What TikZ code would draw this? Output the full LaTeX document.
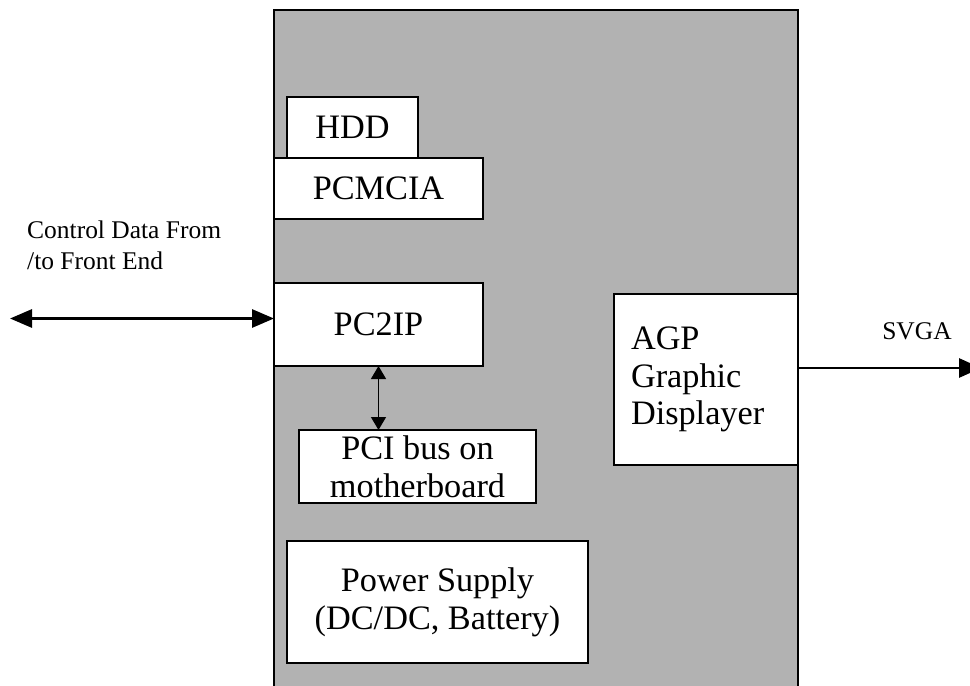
\documentclass[tikz,border=0pt]{standalone}
\usepackage{fontspec}
\setmainfont{Liberation Serif}
\usepackage{xcolor}
\definecolor{boardgray}{RGB}{178,178,178}
\usepackage{tikz}
\usetikzlibrary{arrows.meta, positioning, calc}

\begin{document}
\begin{tikzpicture}[
  board/.style={rectangle, draw=black, line width=1.1pt, fill=boardgray,
                minimum width=10.48cm, minimum height=13.7cm, outer sep=0pt},
  blk/.style={rectangle, draw=black, line width=0.8pt, fill=white, inner sep=0pt,
              outer sep=0pt, align=center, font=\fontsize{19.5}{21.5}\selectfont},
  sig/.style={font=\fontsize{#1}{17.6}\selectfont, align=left},
  bus/.style={line width=1.7pt, {Triangle[length=0.44cm,width=0.36cm]}-{Triangle[length=0.44cm,width=0.36cm]}},
  link/.style={line width=0.8pt, {Triangle[length=0.26cm,width=0.3cm]}-{Triangle[length=0.26cm,width=0.3cm]}}
]
\clip (0,0) rectangle (19.4,13.7);

% Motherboard (runs off the bottom edge)
\node[board] (mb) at (10.72,6.65) {};

% Left column
\node[blk, minimum width=2.62cm, minimum height=1.22cm] (hdd) at (7.05,11.15) {HDD};
\node[blk, minimum width=4.18cm, minimum height=1.22cm] (pcmcia) at (7.57,9.93) {PCMCIA};
\node[blk, minimum width=4.18cm, minimum height=1.66cm] (pc2ip) at (7.57,7.21) {PC2IP};
\node[blk, minimum width=4.74cm, minimum height=1.46cm] (pci) at (8.35,4.37) {PCI bus on\\motherboard};
\node[blk, minimum width=6.02cm, minimum height=2.44cm] (psu) at (8.75,1.66) {Power Supply\\(DC/DC, Battery)};

% Right: graphics
\node[blk, minimum width=3.68cm, minimum height=3.42cm, text width=3.0cm,
      align=left] (agp) at (14.12,6.11) {AGP\\Graphic\\Displayer};

% Front end link
\coordinate (fe) at (0.2,7.33);
\draw[bus] (fe) -- (fe -| pc2ip.west);
\node[sig=14.5, anchor=west] (ctl) at (0.42,8.79) {Control Data From\\/to Front End};

\draw[link] (pc2ip.south) -- (pc2ip.south |- pci.north);

% SVGA out
\coordinate (disp) at (19.62,6.34);
\draw[line width=1.7pt, -{Triangle[length=0.44cm,width=0.38cm]}] (agp.east |- disp) -- (disp);
\node[sig=14.5] (svga) at (18.34,7.08) {SVGA};
\end{tikzpicture}
\end{document}
